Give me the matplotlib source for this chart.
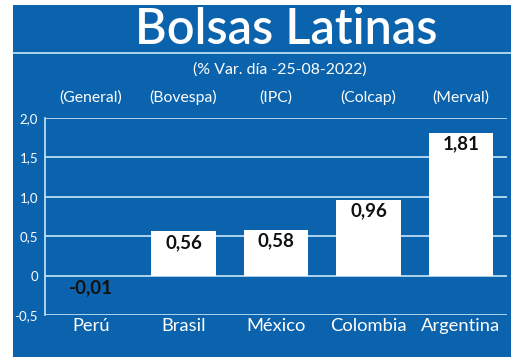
import matplotlib
matplotlib.use("Agg")
import matplotlib.pyplot as plt
from matplotlib.patches import Rectangle
from matplotlib.lines import Line2D

countries = ["Perú", "Brasil", "México", "Colombia", "Argentina"]
indices = ["(General)", "(Bovespa)", "(IPC)", "(Colcap)", "(Merval)"]
values = [-0.01, 0.56, 0.58, 0.96, 1.81]
value_labels = ["-0,01", "0,56", "0,58", "0,96", "1,81"]
yticks = [-0.5, 0, 0.5, 1.0, 1.5, 2.0]
ytick_labels = ["-0,5", "0", "0,5", "1,0", "1,5", "2,0"]
title = "Bolsas Latinas"
subtitle = "(% Var. día -25-08-2022)"

BLUE = "#0B63AD"
GRID = "#C8E6F8"
FONT = "Lato"

W, H = 520, 363
fig = plt.figure(figsize=(W / 100, H / 100), dpi=100)
fig.patch.set_facecolor("white")

def fx(px):
    return px / W

def fy(py):
    return 1 - py / H

fig.patches.append(Rectangle((fx(13), fy(357)), fx(511) - fx(13), fy(5) - fy(357),
                             transform=fig.transFigure, facecolor=BLUE, edgecolor="none", zorder=-10))
fig.lines.append(Line2D([fx(13), fx(511)], [fy(53), fy(53)], transform=fig.transFigure,
                        color=GRID, lw=1.2, zorder=-5))

fig.text(fx(286), fy(30), title, color="white", fontsize=35, fontfamily=FONT,
         fontweight="semibold", ha="center", va="center")
fig.text(fx(280), fy(70), subtitle, color="white", fontsize=11.4, fontfamily=FONT,
         ha="center", va="center")

ax = fig.add_axes([fx(45), fy(315), fx(507) - fx(45), fy(118) - fy(315)])
ax.patch.set_alpha(0)
x = list(range(len(countries)))
ax.set_xlim(-0.497, 4.497)
ax.set_ylim(-0.5, 2.0)
for t in yticks:
    ax.axhline(t, color=GRID, lw=1.2, zorder=1)
ax.bar(x, values, width=0.70, color="white", zorder=2)

for xi, v, lab in zip(x, values, value_labels):
    if v >= 0.1:
        ax.text(xi, v - 0.03, lab, ha="center", va="top", fontsize=13.5,
                fontweight="bold", color="#111111", fontfamily=FONT, zorder=3)
    else:
        ax.text(xi, -0.04, lab, ha="center", va="top", fontsize=13.5,
                fontweight="bold", color="#111111", fontfamily=FONT, zorder=3)

for s in ["top", "right", "bottom"]:
    ax.spines[s].set_visible(False)
ax.spines["left"].set_color(GRID)
ax.spines["left"].set_linewidth(1.2)
ax.set_yticks(yticks)
ax.set_yticklabels(ytick_labels, color="white", fontsize=9.5, fontfamily=FONT)
ax.tick_params(axis="y", length=0, pad=5)
ax.set_xticks(x)
ax.set_xticklabels(countries, color="white", fontsize=13.2, fontfamily=FONT)
ax.tick_params(axis="x", length=0, pad=2)

for xi, lab in zip(x, indices):
    ax.text(xi, 2.26, lab, ha="center", va="center", fontsize=11.3, color="white",
            fontfamily=FONT, clip_on=False)

fig.savefig("out.png", dpi=100)
